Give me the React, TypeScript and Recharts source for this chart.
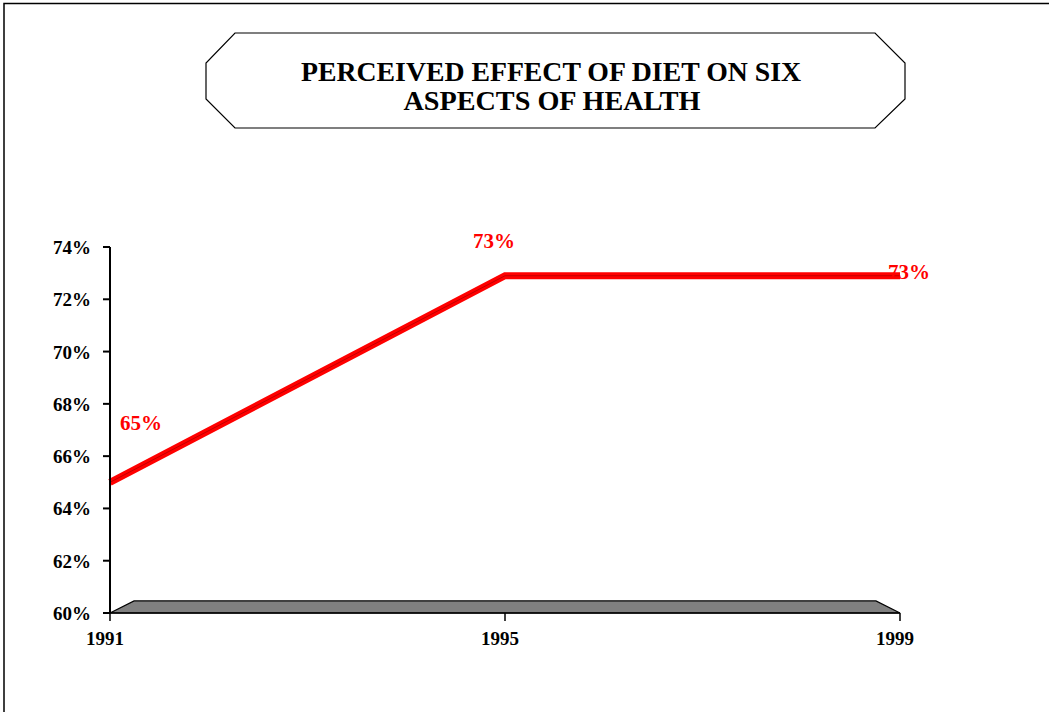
import React from 'react';
import {
    LineChart,
    Line,
    XAxis,
    YAxis,
    ReferenceArea,
} from 'recharts';

// survey years and the share of people who think diet affects health
const YEARS = [1991, 1995, 1999];
const SHARE = [65, 72.9, 72.9];
const SHARE_LABELS = ['65%', '73%', '73%'];
const Y_TICKS = [60, 62, 64, 66, 68, 70, 72, 74];

// where each value label sits relative to its point
const LABEL_OFFSET = [
    [31, -52],
    [-11, -28],
    [9, 3],
];

const data = YEARS.map((year, i) => ({ year, share: SHARE[i] }));

const FONT = '"Liberation Serif", "Times New Roman", serif';

// grey 3D floor under the plot
const Floor = (props: any) => {
    const { x, y, width, height } = props;
    const inset = height * 2;
    const pts = [
        [x, y + height],
        [x + inset, y],
        [x + width - inset, y],
        [x + width, y + height],
    ].map(p => p.join(',')).join(' ');
    return <polygon points={pts} fill="#808080" stroke="#000" strokeWidth={1.2} />;
};

const ValueLabel = (props: any) => {
    const { x, y, index } = props;
    const [dx, dy] = LABEL_OFFSET[index] || [0, -10];
    return (
        <text
            x={x + dx}
            y={y + dy}
            textAnchor="middle"
            fill="#ff0000"
            fontFamily={FONT}
            fontWeight="bold"
            fontSize={21}
        >
            {SHARE_LABELS[index]}
        </text>
    );
};

const YTick = (props: any) => {
    const { x, y, payload } = props;
    return (
        <text x={x} y={y} dy={7} textAnchor="end" fill="#000" fontFamily={FONT} fontWeight="bold" fontSize={19}>
            {`${payload.value}%`}
        </text>
    );
};

const XTick = (props: any) => {
    const { x, y, payload } = props;
    return (
        <text x={x - 5} y={y} dy={20} textAnchor="middle" fill="#000" fontFamily={FONT} fontWeight="bold" fontSize={19}>
            {payload.value}
        </text>
    );
};

export default function App() {
    return (
        <div style={{ position: 'absolute', left: 0, top: 0, width: 1049, height: 712, background: '#fff' }}>
            <svg width={1049} height={712} style={{ position: 'absolute', left: 0, top: 0 }}>
                <polyline points="4,712 4,3.5 1049,3.5" fill="none" stroke="#000" strokeWidth={1.5} />
                <polygon
                    points="235,33 875,33 905,63 905,99 875,128 235,128 206,99 206,63"
                    fill="#fff"
                    stroke="#000"
                    strokeWidth={1.2}
                />
                <text
                    x={551}
                    y={81}
                    textAnchor="middle"
                    fontFamily={FONT}
                    fontWeight="bold"
                    fontSize={27}
                    textLength={500}
                    lengthAdjust="spacingAndGlyphs"
                >
                    PERCEIVED EFFECT OF DIET ON SIX
                </text>
                <text
                    x={552}
                    y={110}
                    textAnchor="middle"
                    fontFamily={FONT}
                    fontWeight="bold"
                    fontSize={27}
                    textLength={297}
                    lengthAdjust="spacingAndGlyphs"
                >
                    ASPECTS OF HEALTH
                </text>
            </svg>
            <div style={{ position: 'absolute', left: 0, top: 0 }}>
                <LineChart
                    width={1049}
                    height={712}
                    data={data}
                    margin={{ top: 247, right: 149, bottom: 59, left: 0 }}
                >
                    <XAxis
                        dataKey="year"
                        type="number"
                        domain={[1991, 1999]}
                        ticks={YEARS}
                        height={40}
                        stroke="#000"
                        strokeWidth={1.5}
                        tickSize={8}
                        tickMargin={4}
                        tick={<XTick />}
                    />
                    <YAxis
                        type="number"
                        domain={[60, 74]}
                        ticks={Y_TICKS}
                        width={110}
                        stroke="#000"
                        strokeWidth={2}
                        tickSize={7}
                        tickMargin={12}
                        tick={<YTick />}
                    />
                    <ReferenceArea
                        x1={1991}
                        x2={1999}
                        y1={60}
                        y2={60.46}
                        ifOverflow="visible"
                        shape={<Floor />}
                    />
                    <Line
                        dataKey="share"
                        type="linear"
                        stroke="#ff0000"
                        strokeWidth={7}
                        dot={false}
                        activeDot={false}
                        isAnimationActive={false}
                        label={<ValueLabel />}
                    />
                    <Line
                        dataKey="share"
                        type="linear"
                        stroke="#c00000"
                        strokeWidth={1}
                        dot={false}
                        activeDot={false}
                        isAnimationActive={false}
                    />
                </LineChart>
            </div>
        </div>
    );
}
